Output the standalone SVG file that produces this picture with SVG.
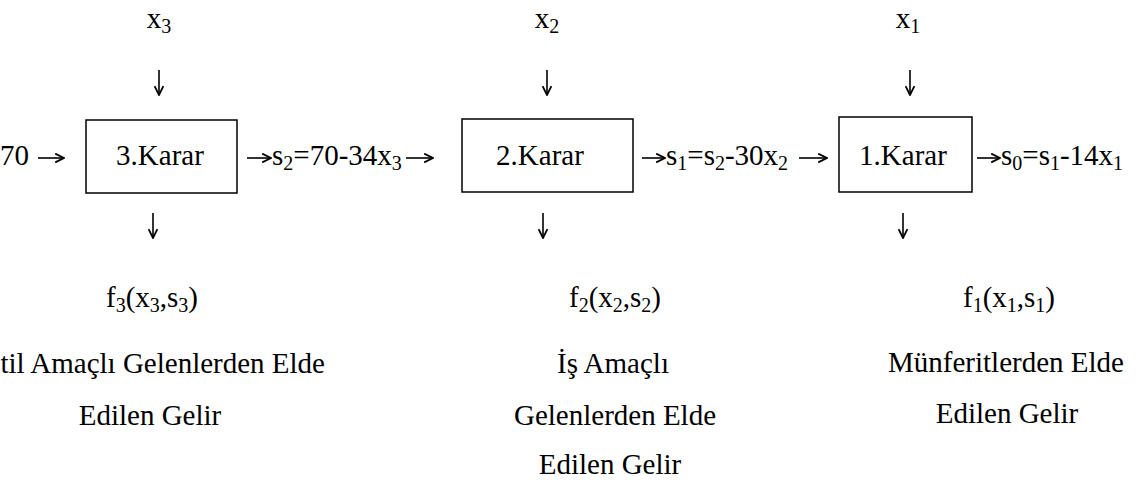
<svg xmlns="http://www.w3.org/2000/svg" width="1138" height="480" viewBox="0 0 1138 480">
<style>
text { font-family: "Liberation Serif", "Times New Roman", serif; font-size: 29px; fill: #000; }
.c { text-anchor: middle; }
.s { font-size: 20px; }
.box { fill: #fff; stroke: #000; stroke-width: 1.5; }
.arr { fill: none; stroke: #000; stroke-width: 1.6; marker-end: url(#head); }
</style>
<defs>
  <marker id="head" viewBox="0 0 10 10" refX="9" refY="5" markerWidth="11" markerHeight="11" markerUnits="userSpaceOnUse" orient="auto">
    <path d="M1,1 L9,5 L1,9" fill="none" stroke="#000" stroke-width="1.6"/>
  </marker>
</defs>
<rect width="1138" height="480" fill="#fff"/>
<g id="connectors">
  <path class="arr" d="M38,158 H64"/>
  <path class="arr" d="M247,158 H271"/>
  <path class="arr" d="M406,158 H433"/>
  <path class="arr" d="M642,158 H665"/>
  <path class="arr" d="M799,158 H827"/>
  <path class="arr" d="M977,158 H1000"/>
  <path class="arr" d="M159,70 V95"/>
  <path class="arr" d="M547,70 V95"/>
  <path class="arr" d="M910,70 V95"/>
  <path class="arr" d="M153,213 V238"/>
  <path class="arr" d="M543,213 V238"/>
  <path class="arr" d="M903,213 V238"/>
  <text x="0" y="165">70</text>
  <text x="272" y="165">s<tspan class="s" dy="5">2</tspan><tspan dy="-5">=70-34x</tspan><tspan class="s" dy="5">3</tspan></text>
  <text x="666" y="165">s<tspan class="s" dy="5">1</tspan><tspan dy="-5">=s</tspan><tspan class="s" dy="5">2</tspan><tspan dy="-5">-30x</tspan><tspan class="s" dy="5">2</tspan></text>
  <text x="1001" y="165">s<tspan class="s" dy="5">0</tspan><tspan dy="-5">=s</tspan><tspan class="s" dy="5">1</tspan><tspan dy="-5">-14x</tspan><tspan class="s" dy="5">1</tspan></text>
</g>
<g id="input-x3"><text class="c" x="159" y="28">x<tspan class="s" dy="5">3</tspan></text></g>
<g id="input-x2"><text class="c" x="547" y="28">x<tspan class="s" dy="5">2</tspan></text></g>
<g id="input-x1"><text class="c" x="908" y="28">x<tspan class="s" dy="5">1</tspan></text></g>
<g id="karar3">
  <rect class="box" x="86" y="120" width="151" height="73"/>
  <text class="c" x="160" y="165">3.Karar</text>
</g>
<g id="karar2">
  <rect class="box" x="462" y="119" width="171" height="73"/>
  <text class="c" x="540" y="165">2.Karar</text>
</g>
<g id="karar1">
  <rect class="box" x="839" y="117" width="133" height="75"/>
  <text class="c" x="903" y="165">1.Karar</text>
</g>
<g id="output3">
  <text class="c" x="152" y="307">f<tspan class="s" dy="5">3</tspan><tspan dy="-5">(x</tspan><tspan class="s" dy="5">3</tspan><tspan dy="-5">,s</tspan><tspan class="s" dy="5">3</tspan><tspan dy="-5">)</tspan></text>
  <text x="325" y="373" text-anchor="end">til Amaçlı Gelenlerden Elde</text>
  <text class="c" x="150" y="425">Edilen Gelir</text>
</g>
<g id="output2">
  <text class="c" x="615" y="307">f<tspan class="s" dy="5">2</tspan><tspan dy="-5">(x</tspan><tspan class="s" dy="5">2</tspan><tspan dy="-5">,s</tspan><tspan class="s" dy="5">2</tspan><tspan dy="-5">)</tspan></text>
  <text class="c" x="613" y="373">İş Amaçlı</text>
  <text class="c" x="615" y="425">Gelenlerden Elde</text>
  <text class="c" x="610" y="474">Edilen Gelir</text>
</g>
<g id="output1">
  <text class="c" x="1009" y="307">f<tspan class="s" dy="5">1</tspan><tspan dy="-5">(x</tspan><tspan class="s" dy="5">1</tspan><tspan dy="-5">,s</tspan><tspan class="s" dy="5">1</tspan><tspan dy="-5">)</tspan></text>
  <text class="c" x="1006" y="372">Münferitlerden Elde</text>
  <text class="c" x="1007" y="423">Edilen Gelir</text>
</g>
</svg>
